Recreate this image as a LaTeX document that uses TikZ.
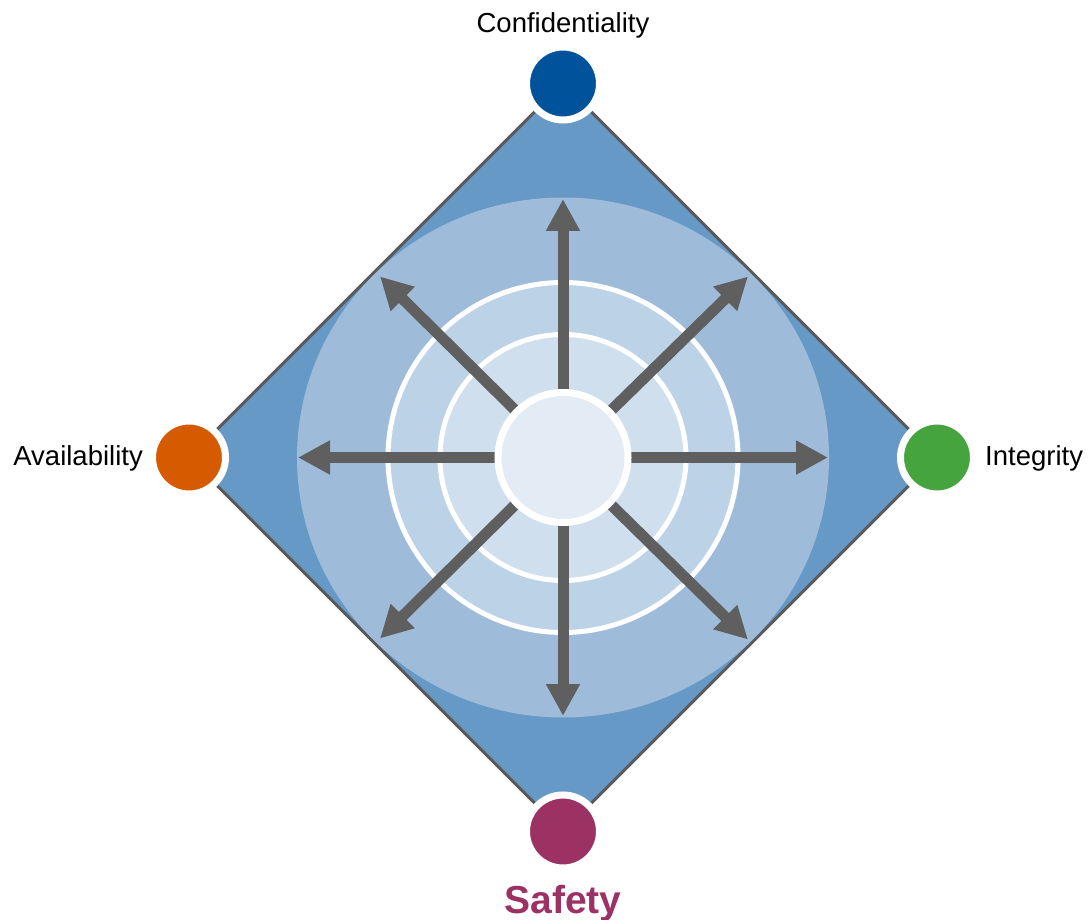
\documentclass[tikz,border=0pt]{standalone}
\usepackage{fontspec}
\setmainfont{Liberation Sans}
\usetikzlibrary{arrows.meta,calc}
\definecolor{diamondblue}{HTML}{6699C6}
\definecolor{edgegray}{HTML}{5A5A5A}
\definecolor{bigcircle}{HTML}{9EBCDA}
\definecolor{ringone}{HTML}{BCD2E7}
\definecolor{ringtwo}{HTML}{D0DFEE}
\definecolor{corefill}{HTML}{E3EBF5}
\definecolor{arrowgray}{HTML}{5F5F5F}
\definecolor{confblue}{HTML}{00529B}
\definecolor{availorange}{HTML}{D65A00}
\definecolor{integgreen}{HTML}{46A43F}
\definecolor{safepurple}{HTML}{9B3263}
\begin{document}
\begin{tikzpicture}[x=1pt,y=-1pt,
  vertexdot/.style={circle, inner sep=0pt, minimum size=73pt, draw=white, line width=7pt},
  lbl/.style={font=\fontsize{27.5}{30}\selectfont, inner sep=0pt, text=black},
  ray/.style={draw=arrowgray, line width=11pt, -{Triangle[length=32pt,width=32pt]}},
  ringline/.style={draw=white, line width=5pt}
]
\useasboundingbox (0,0) rectangle (1088,920);
% geometry
\coordinate (o) at (563,457.5);
\coordinate (vT) at (563,83.5);
\coordinate (vR) at (937,457.5);
\coordinate (vB) at (563,831.5);
\coordinate (vL) at (189,457.5);
% diamond
\path[fill=diamondblue, draw=edgegray, line width=3pt, line join=miter]
  (vT) -- (vR) -- (vB) -- (vL) -- cycle;
% big light circle clipped to diamond
\begin{scope}
  \clip (vT) -- (vR) -- (vB) -- (vL) -- cycle;
  \fill[bigcircle] (o) ellipse [x radius=266, y radius=260];
\end{scope}
% rings
\fill[ringone] (o) circle [radius=175];
\fill[ringtwo] (o) circle [radius=123];
\draw[ringline] (o) circle [radius=175];
\draw[ringline] (o) circle [radius=123];
% arrow tips
\coordinate (tN)  at ($(o)+(0,-258.5)$);
\coordinate (tS)  at ($(o)+(0,258.5)$);
\coordinate (tW)  at ($(o)+(-265,0)$);
\coordinate (tE)  at ($(o)+(265,0)$);
\coordinate (tNW) at ($(o)+(-183,-181)$);
\coordinate (tNE) at ($(o)+(185,-181)$);
\coordinate (tSW) at ($(o)+(-183,181)$);
\coordinate (tSE) at ($(o)+(185,182)$);
\foreach \t in {tN,tS,tW,tE,tNW,tNE,tSW,tSE}
  \draw[ray] (o) -- (\t);
% core
\node[circle, inner sep=0pt, minimum size=130pt, fill=corefill, draw=white, line width=7pt] (core) at (o) {};
% vertex dots
\node[vertexdot, fill=confblue] (conf) at (vT) {};
\node[vertexdot, fill=integgreen] (integ) at (vR) {};
\node[vertexdot, fill=safepurple] (safe) at (vB) {};
\node[vertexdot, fill=availorange] (avail) at (vL) {};
% labels
\node[lbl, anchor=base] (confl) at (563,33) {Confidentiality};
\node[lbl, anchor=base east] (availl) at (143,465) {Availability};
\node[lbl, anchor=base west] (integl) at (985,465) {Integrity};
\node[inner sep=0pt, anchor=base, text=safepurple, font=\fontsize{39}{41}\selectfont\bfseries] (safel) at (563,913) {Safety};
\end{tikzpicture}
\end{document}
